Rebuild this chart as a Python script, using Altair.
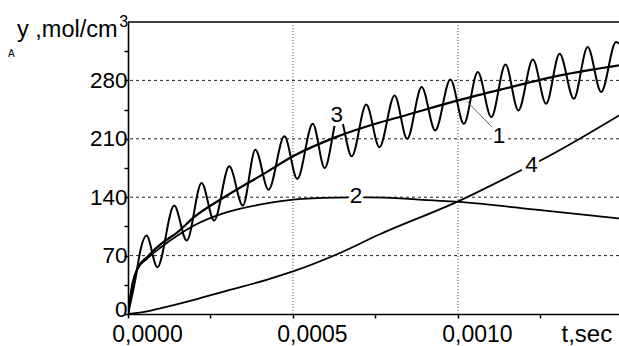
import altair as alt
import pandas as pd

# ---- data: time t (s) and concentration y_A (mol/cm^3) ----
# 1: smooth solution
t1 = [0, 0.000014, 0.000029, 0.00006, 0.0001, 0.00015, 0.0002, 0.0003, 0.00042,
      0.0005, 0.00063, 0.00075, 0.00084, 0.001, 0.00114, 0.00131, 0.001488]
y1 = [0, 37, 55, 69, 84, 98, 116, 142, 170, 189, 212, 228, 238, 256, 270, 286, 298]

# 2: rises to a maximum and slowly decays
t2 = [0, 0.000014, 0.000029, 0.00006, 0.0001, 0.00015, 0.0002, 0.0003, 0.00042,
      0.0005, 0.00063, 0.00072, 0.00084, 0.00088, 0.001, 0.00125, 0.001488]
y2 = [0, 36, 54, 67, 80, 94, 106, 122, 132.5, 137, 139.5, 139.8, 138.4, 137,
      134.5, 124.5, 114.5]

# 3: oscillating solution (start, then alternating peaks and troughs)
t3 = [0, 0.000023, 0.000038, 0.000056, 0.000089, 0.000140, 0.000178, 0.000223,
      0.000261, 0.000307, 0.000348, 0.000386, 0.000426, 0.000474, 0.000513,
      0.000560, 0.000596, 0.000639, 0.000678, 0.000722, 0.000762, 0.000808,
      0.000846, 0.000890, 0.000931, 0.000977, 0.001018, 0.001060, 0.001101,
      0.001144, 0.001183, 0.001227, 0.001267, 0.001308, 0.001351, 0.001393,
      0.001434, 0.001479, 0.001488]
y3 = [0, 43, 77, 94, 56, 130, 88, 157, 112, 177, 130, 197, 149, 213, 162, 228,
      175, 240, 189, 251, 200, 262, 210, 272, 220, 281, 228, 290, 236, 299, 244,
      305, 252, 312, 258, 320, 266, 326, 324]

# 4: slowly growing solution
t4 = [0, 0.00005, 0.0001, 0.0002, 0.0003, 0.00042, 0.0005, 0.00063, 0.00076,
      0.001, 0.00119, 0.00125, 0.001488]
y4 = [0, 2.5, 7, 17, 28, 41, 51, 71, 95, 135, 172, 184, 238]

# curve numbers and where they are written
lbl_text = ["1", "2", "3", "4"]
lbl_t = [0.001124, 0.000691, 0.000633, 0.001223]
lbl_v = [213, 142, 239, 178]

# leader from curve 1 to its number
lead_t = [0.001027, 0.001103]
lead_v = [255, 224]

# grid positions and ticks
y_grid = [70, 140, 210, 280]
x_grid = [0.0005, 0.001]
x_ticks = [0, 0.00025, 0.0005, 0.00075, 0.001, 0.00125]
y_ticks = [0, 35, 70, 105, 140, 175, 210, 245, 280, 315]

FONT = "Liberation Sans"
X_DOMAIN = [0, 0.001488]
Y_DOMAIN = [0, 350]
NBSP = "\u00a0"

x_label_expr = (
    "abs(datum.value * 2000 - round(datum.value * 2000)) < 1e-6 ? "
    "(replace(format(datum.value, '.4f'), '.', ',') + "
    "(datum.value > 0.0007 ? '" + NBSP * 2 + "' : '')) : ''"
)

x_axis = alt.Axis(
    values=x_ticks,
    labelExpr=x_label_expr,
    grid=False, tickSize=4, tickColor="black", tickWidth=1.5,
    domainColor="black", domainWidth=1.6,
    labelFont=FONT, labelFontSize=23, labelColor="black", labelPadding=5.5,
    labelFlush=False, labelOverlap=False, labelOffset=19,
    title="t,sec", titleFont=FONT, titleFontSize=24, titleFontWeight="normal",
    titleColor="black", titleX=433, titleY=27.7, titleAlign="left",
    titleBaseline="alphabetic",
)

y_axis = alt.Axis(
    values=y_ticks,
    labelExpr="datum.value % 70 == 0 ? format(datum.value, 'd') : ''",
    grid=False, tickSize=4, tickColor="black", tickWidth=1.5,
    domainColor="black", domainWidth=1.6,
    labelFont=FONT, labelFontSize=22.5, labelColor="black", labelPadding=-3,
    labelOverlap=False,
    labelOffset={"condition": {"test": "datum.value == 0", "value": -5}, "value": 0},
    title="y ,mol/cm", titleFont=FONT, titleFontSize=23.5, titleFontWeight="normal",
    titleColor="black", titleAngle=0, titleX=-111.5, titleY=14.7,
    titleAlign="left", titleBaseline="alphabetic",
)


def X():
    return alt.X("t:Q", scale=alt.Scale(domain=X_DOMAIN, nice=False, zero=False), axis=x_axis)


def Y():
    return alt.Y("v:Q", scale=alt.Scale(domain=Y_DOMAIN, nice=False), axis=y_axis)


def curve(t, v, width):
    df = pd.DataFrame({"t": t, "v": v})
    return alt.Chart(df).mark_line(
        color="black", strokeWidth=width, interpolate="monotone", clip=True
    ).encode(x=X(), y=Y())


h_grid = alt.Chart(pd.DataFrame({"v": y_grid})).mark_rule(
    color="#222", strokeWidth=1, strokeDash=[3, 3]
).encode(y=Y())

v_grid = alt.Chart(pd.DataFrame({"t": x_grid})).mark_rule(
    color="#555", strokeWidth=1, strokeDash=[1, 2]
).encode(x=X())

leader = alt.Chart(pd.DataFrame({"t": lead_t, "v": lead_v})).mark_line(
    color="#666", strokeWidth=1
).encode(x=X(), y=Y())

labels_df = pd.DataFrame({"t": lbl_t, "v": lbl_v, "s": lbl_text})
halo = alt.Chart(labels_df).mark_text(
    font=FONT, fontSize=22.5, fill="white", stroke="white", strokeWidth=8,
    strokeJoin="round", align="center", baseline="middle"
).encode(x=X(), y=Y(), text="s:N")
labels = alt.Chart(labels_df).mark_text(
    font=FONT, fontSize=22.5, color="black", align="center", baseline="middle"
).encode(x=X(), y=Y(), text="s:N")

top_border = alt.Chart(pd.DataFrame({"k": [0]})).mark_rule(
    color="black", strokeWidth=1.6
).encode(y=alt.value(0))

sup = alt.Chart(pd.DataFrame({"s": ["3"]})).mark_text(
    font=FONT, fontSize=16, color="black", align="left", baseline="alphabetic"
).encode(x=alt.value(-8.7), y=alt.value(4.7), text="s:N")

sub = alt.Chart(pd.DataFrame({"s": ["A"]})).mark_text(
    font=FONT, fontSize=10, color="black", align="left", baseline="alphabetic"
).encode(x=alt.value(-120), y=alt.value(35.3), text="s:N")

chart = alt.layer(
    h_grid, v_grid,
    curve(t4, y4, 1.8), curve(t2, y2, 1.8), curve(t1, y1, 2.2), curve(t3, y3, 2.0),
    leader, halo, labels, top_border, sup, sub,
).properties(
    width=491, height=292,
    autosize=alt.AutoSizeParams(type="none"),
    padding={"left": 128, "top": 22, "right": 0, "bottom": 32},
    background="white",
).configure_view(stroke=None)

chart.save("out.html", embed_options={"renderer": "svg", "actions": False})
